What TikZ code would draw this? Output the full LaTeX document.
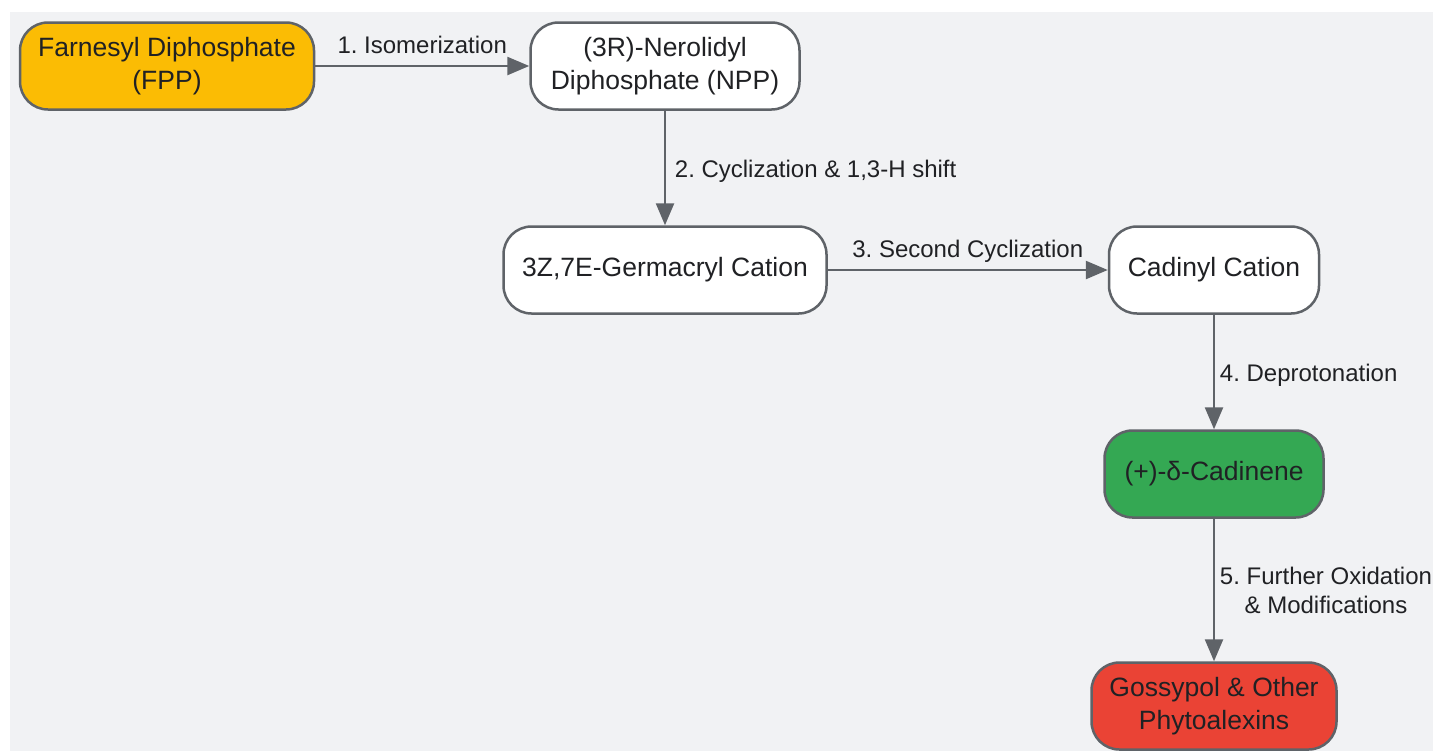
\documentclass[tikz,border=0pt]{standalone}
\usepackage{fontspec}
\setmainfont{Liberation Sans}
\usepackage{tikz}
\usetikzlibrary{shapes.geometric, arrows.meta, positioning}
\frenchspacing
\definecolor{linegray}{HTML}{5F6368}
\definecolor{textdark}{HTML}{202124}
\definecolor{bggray}{HTML}{F1F2F4}
\definecolor{amber}{HTML}{FBBC04}
\definecolor{leafgreen}{HTML}{34A853}
\definecolor{tomato}{HTML}{EA4335}
\tikzstyle{intermediate} = [rectangle, rounded corners=14pt, minimum height=43.5pt, text centered, align=center, draw=linegray, line width=1.25pt, fill=white, text=textdark, font=\fontsize{13.25}{16.5}\selectfont]
\tikzstyle{substrate} = [intermediate, fill=amber]
\tikzstyle{product} = [intermediate, fill=leafgreen]
\tikzstyle{endproduct} = [intermediate, fill=tomato]
\tikzstyle{arrow} = [line width=1.25pt, draw=linegray, -{Triangle[length=11pt,width=9pt]}]
\tikzstyle{steplabel} = [text=textdark, align=center, font=\fontsize{12}{14.5}\selectfont]

\begin{document}
\begin{tikzpicture}[node distance=102pt]
\useasboundingbox (0,0) rectangle (716.5pt,-375.5pt);
\fill [bggray] (5pt,-6pt) rectangle (716.5pt,-375.5pt);

\node (fpp) [substrate, minimum width=147pt] at (83.5pt,-33pt) {Farnesyl Diphosphate\\(FPP)};
\node (npp) [intermediate, minimum width=134.5pt, right of=fpp, xshift=147pt] {(3R)-Nerolidyl\\Diphosphate (NPP)};
\node (germ) [intermediate, minimum width=161.5pt, below of=npp] {3Z,7E-Germacryl Cation};
\node (cadinyl) [intermediate, minimum width=105pt, right of=germ, xshift=172.5pt] {Cadinyl Cation};
\node (cadinene) [product, minimum width=109.5pt, below of=cadinyl] {(+)-δ-Cadinene};
\node (gossypol) [endproduct, minimum width=122.5pt, below of=cadinene, yshift=-14pt] {Gossypol \& Other\\Phytoalexins};

\draw [arrow] (fpp) -- node [steplabel, anchor=south, yshift=2pt] {1. Isomerization} (npp);
\draw [arrow] (npp) -- node [steplabel, anchor=west, xshift=1pt, yshift=-1.5pt] {2. Cyclization \& 1,3-H shift} (germ);
\draw [arrow] (germ) -- node [steplabel, anchor=south] {3. Second Cyclization} (cadinyl);
\draw [arrow] (cadinyl) -- node [steplabel, anchor=west, xshift=-1pt, yshift=-1.5pt] {4. Deprotonation} (cadinene);
\draw [arrow] (cadinene) -- node [steplabel, anchor=west, xshift=-1pt] {5. Further Oxidation\\\& Modifications} (gossypol);
\end{tikzpicture}
\end{document}
